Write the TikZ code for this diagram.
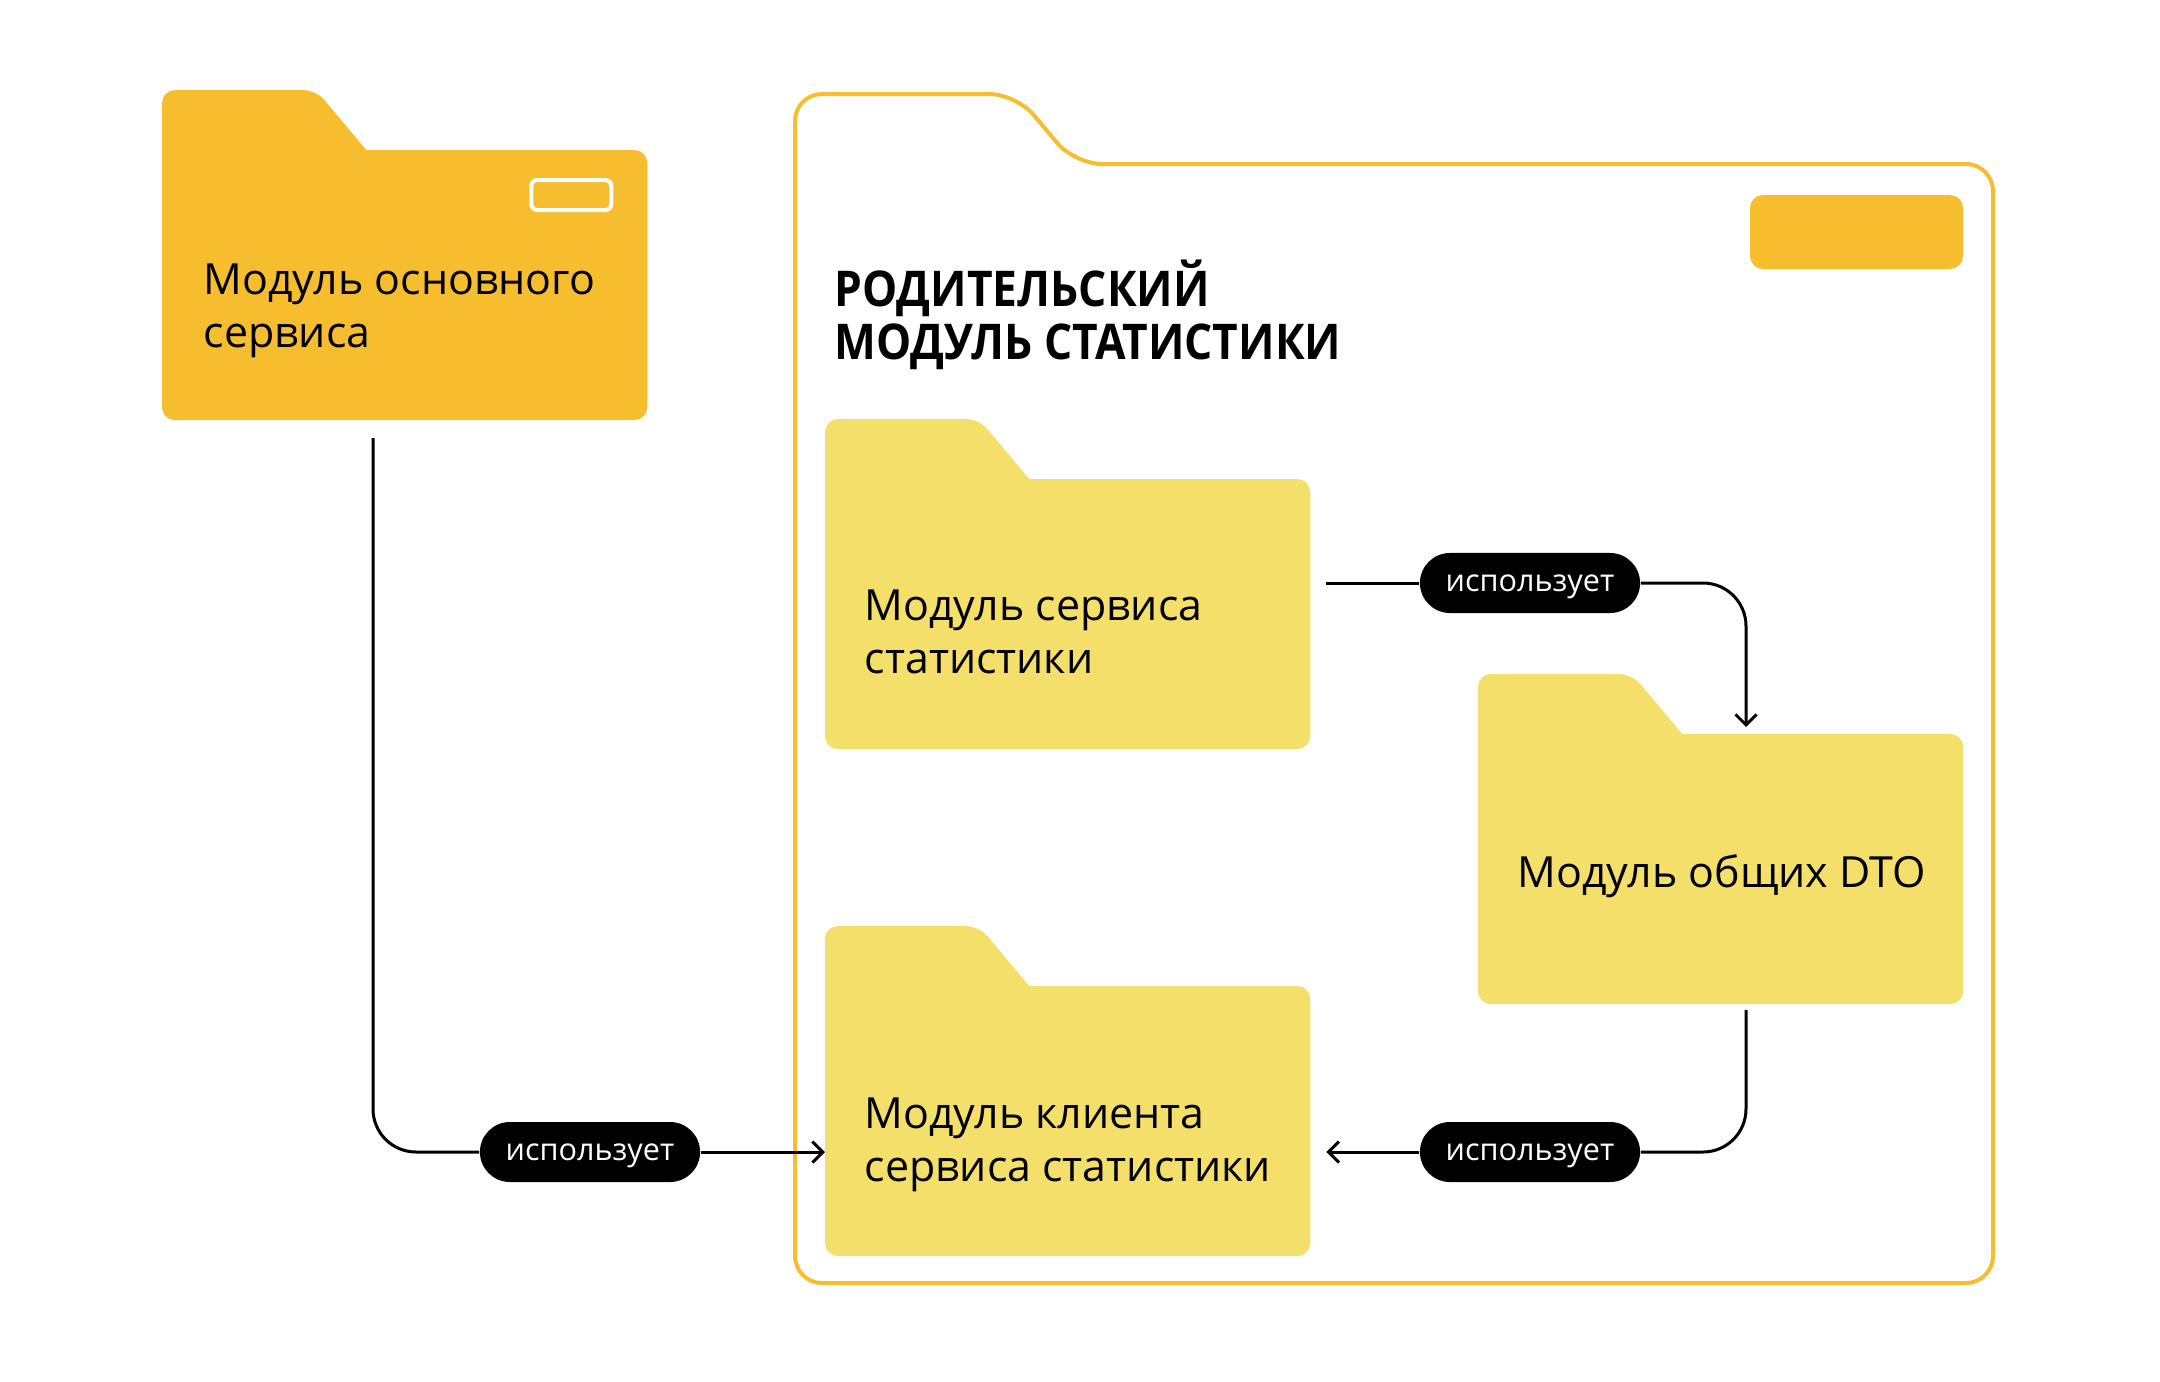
\documentclass[tikz,border=0pt]{standalone}
\usepackage{fontspec}
\setmainfont{Open Sans}
\newfontfamily\titlefont[FakeStretch=0.9]{Open Sans}
\usetikzlibrary{arrows.meta,positioning,calc}

\definecolor{darkyellow}{HTML}{F6BE2E}
\definecolor{lightyellow}{HTML}{F5DF6B}

\begin{document}
\begin{tikzpicture}[
		x=0.01cm, y=-0.01cm,
		folder/.style={rectangle, rounded corners=0.13cm, minimum width=4.85cm, minimum height=2.7cm, inner sep=0pt, outer sep=0pt, anchor=north west},
		modtext/.style={anchor=base west, align=left, inner sep=0pt, font=\fontsize{12.2}{14.8}\selectfont},
		title/.style={anchor=base west, align=left, inner sep=0pt, font=\titlefont\bfseries\fontsize{14}{14.8}\selectfont},
		uses/.style={rectangle, fill=black, text=white, rounded corners=0.3cm, minimum width=2.2cm, minimum height=0.6cm, inner sep=0pt, text height=0.2cm, text depth=0.04cm, font=\fontsize{8.7}{10}\selectfont},
		link/.style={line width=0.03cm, rounded corners=0.43cm},
		arrow/.style={link, -{Straight Barb[length=3pt,width=6pt]}}
		]
		\useasboundingbox (0,0) rectangle (2160,1381);

		% Parent module (outlined folder)
		\draw[darkyellow, line width=0.04cm, rounded corners=0.27cm] (795,700) -- (795,94) -- (1016,94) -- (1075,164) -- (1993,164) -- (1993,1283) -- (795,1283) -- cycle;
		\fill[darkyellow, rounded corners=0.13cm] (1750,195) rectangle (1963,269);
		\node[title] (parent) at (834,359) {РОДИТЕЛЬСКИЙ\\МОДУЛЬ СТАТИСТИКИ};

		% Folder bodies
		\node[folder, fill=darkyellow] (main) at (162,150) {};
		\node[folder, fill=lightyellow] (svc) at (825,479) {};
		\node[folder, fill=lightyellow] (client) at (825,986) {};
		\node[folder, fill=lightyellow] (dto) at (1478,734) {};

		% Folder tabs
		\foreach \f/\c in {main/darkyellow, svc/lightyellow, client/lightyellow, dto/lightyellow}
			\fill[\c, rounded corners=0.13cm] ($(\f.north west)+(0,100)$) -- ++(0,-160) -- ++(154,0) -- ++(67,80) -- ++(0,80) -- cycle;

		% Badge on the main folder
		\draw[white, line width=0.04cm, rounded corners=0.06cm] ($(main.north east)+(-116,30)$) rectangle ++(80,30);

		% Folder labels
		\node[modtext] (maintext) at ($(main.north west)+(41,197)$) {Модуль основного\\сервиса};
		\node[modtext] (svctext) at ($(svc.north west)+(39,194)$) {Модуль сервиса\\статистики};
		\node[modtext] (clienttext) at ($(client.north west)+(39,195)$) {Модуль клиента\\сервиса статистики};
		\node[modtext] (dtotext) at ($(dto.north west)+(39,153)$) {Модуль общих DTO};

		% Usage labels
		\node[uses] (uses1) at (590,1152) {использует};
		\node[uses] (uses2) at (1530,583) {использует};
		\node[uses] (uses3) at (1530,1152) {использует};

		% Connector end points
		\coordinate (mainout) at ($(main.south west)+(211,18)$);
		\coordinate (svcout) at ($(svc.east |- uses2)+(16,0)$);
		\coordinate (dtoin) at ($(dto.north west)+(268,-7)$);
		\coordinate (dtoout) at ($(dto.south west)+(268,6)$);

		% Main service uses client
		\draw[link] (mainout) |- (uses1.west);
		\draw[arrow] (uses1.east) -- (uses1.east -| client.west);

		% Stats service uses DTO
		\draw[link] (svcout) -- (uses2.west);
		\draw[arrow] (uses2.east) -| (dtoin);

		% Client uses DTO
		\draw[link] (dtoout) |- (uses3.east);
		\draw[arrow] (uses3.west) -- ($(uses3.west -| client.east)+(16,0)$);

	\end{tikzpicture}
\end{document}
